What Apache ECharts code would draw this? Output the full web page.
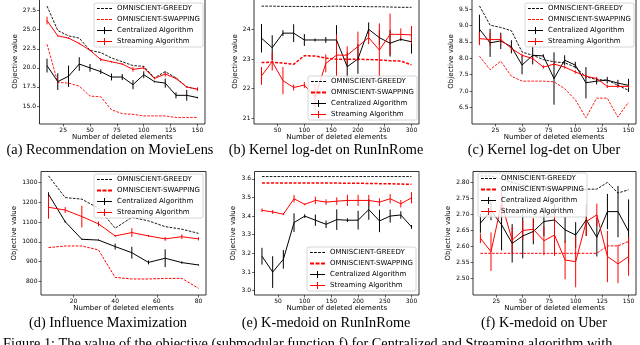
<!DOCTYPE html>
<html><head><meta charset="utf-8">
<script src="https://cdn.jsdelivr.net/npm/echarts@6/dist/echarts.min.js"></script>
<style>html,body{margin:0;padding:0;background:#fff}#c{width:640px;height:345px}</style>
</head><body><div id="c"></div>
<script>
// ---------------- data ----------------
const seriesNames = ['OMNISCIENT-GREEDY', 'OMNISCIENT-SWAPPING', 'Centralized Algorithm', 'Streaming Algorithm'];
const xTitle = 'Number of deleted elements';
const yTitle = 'Objective value';
const captions = ['(a) Recommendation on MovieLens', '(b) Kernel log-det on RunInRome', '(c) Kernel log-det on Uber',
                  '(d) Influence Maximization', '(e) K-medoid on RunInRome', '(f) K-medoid on Uber'];
const figureCaption = 'Figure 1: The value of the objective (submodular function f) for Centralized and Streaming algorithm with';

// (a) Recommendation on MovieLens
const xA = [10,20,30,40,50,60,70,80,90,100,110,120,130,140,150];
const greedyA = [28.1,24.9,24.2,23.9,22.3,22.0,21.3,20.8,20.3,20.2,18.7,19.5,18.7,17.5,17.2];
const swapA = [23.1,18.1,18.0,17.6,16.3,16.2,14.5,14.0,13.9,13.7,13.7,13.7,13.5,13.5,13.5];
const centA = [20.3,18.2,18.9,20.5,20.0,19.5,18.8,18.8,17.8,19.1,18.2,18.0,16.4,16.4,16.1];
const centErrA = [0.9,1.1,1.4,0.9,0.5,0.3,0.45,0.4,0.6,0.45,0.1,0.6,0.4,0.7,0.1];
const streamA = [26.2,24.2,23.9,23.2,22.3,21.1,20.8,20.5,19.8,20.0,18.6,19.2,18.6,17.5,17.2];
const streamErrA = [0.5,0.1,0.1,0.1,0.1,0.2,0.1,0.1,0.3,0.2,0.1,0.35,0.1,0.1,0.25];
const xTicksA = [25,50,75,100,125,150];
const yTicksA = [15.0,17.5,20.0,22.5,25.0,27.5];

// (b) Kernel log-det on RunInRome
const xB = [20,40,60,80,100,120,140,160,180,200,220,240,260,280,300];
const greedyB = [24.78,24.78,24.77,24.77,24.77,24.76,24.77,24.78,24.77,24.77,24.76,24.76,24.75,24.74,24.74];
const swapB = [22.88,22.89,22.86,22.82,23.11,23.10,23.03,22.99,22.99,22.99,22.98,22.97,22.94,22.93,22.80];
const centB = [23.70,23.38,23.87,23.87,23.64,23.64,23.64,23.64,22.74,23.00,24.00,23.72,23.53,23.66,23.58];
const centErrB = [0.48,0.42,0.10,0.30,0.20,0.05,0.10,0.50,0.48,0.50,0.23,0.25,0.45,0.05,0.40];
const streamB = [22.43,22.91,22.27,22.04,22.12,21.72,22.85,23.13,23.13,23.42,23.72,23.30,23.83,23.83,23.81];
const streamErrB = [0.30,0.30,0.46,0.10,0.10,0.40,0.30,0.70,0.30,0.50,0.22,0.90,0.70,0.20,0.30];
const xTicksB = [50,100,150,200,250,300];
const yTicksB = [21,22,23,24];

// (c) Kernel log-det on Uber
const xC = [10,20,30,40,50,60,70,80,90,100,110,120,130,140,150];
const greedyC = [9.60,9.01,8.94,8.84,8.19,8.09,7.96,7.89,7.86,7.73,7.43,7.35,7.33,7.17,7.02];
const swapC = [8.06,7.65,7.91,7.45,7.30,7.30,7.30,7.28,7.07,6.73,6.18,6.78,6.78,6.20,6.66];
const centC = [8.89,8.47,8.53,8.35,7.79,8.09,8.07,7.38,7.94,7.79,7.25,7.30,7.33,7.24,7.17];
const centErrC = [0.44,0.43,0.25,0.20,0.28,0.28,0.05,0.80,0.15,0.10,0.48,0.10,0.10,0.10,0.20];
const streamC = [8.60,8.57,8.57,8.30,8.09,7.99,7.73,7.82,7.73,7.58,7.45,7.38,7.14,7.14,7.14];
const streamErrC = [0.20,0.20,0.15,0.05,0.05,0.05,0.05,0.05,0.05,0.05,0.05,0.05,0.05,0.05,0.05];
const xTicksC = [25,50,75,100,125,150];
const yTicksC = [6.5,7.0,7.5,8.0,8.5,9.0,9.5];

// (d) Influence Maximization
const xD = [8,16,24,32,40,48,56,64,72,80];
const greedyD = [1334,1224,1216,1170,1069,1124,1106,1077,1064,1043];
const swapD = [971,979,979,959,820,812,812,815,815,765];
const centD = [1241,1102,1013,1009,976,945,896,917,895,883];
const centErrD = [10,5,3,3,15,30,10,45,6,3];
const streamD = [1175,1161,1128,1091,1030,1047,1030,1015,1026,1015];
const streamErrD = [58,15,55,12,5,22,5,10,12,8];
const xTicksD = [20,40,60,80];
const yTicksD = [800,900,1000,1100,1200,1300];

// (e) K-medoid on RunInRome
const xE = [20,40,60,80,100,120,140,160,180,200,220,240,260,280,300];
const greedyE = [3.612,3.612,3.612,3.612,3.612,3.612,3.612,3.612,3.612,3.612,3.612,3.612,3.612,3.612,3.612];
const swapE = [3.577,3.577,3.577,3.577,3.577,3.577,3.577,3.577,3.576,3.576,3.575,3.574,3.573,3.572,3.570];
const centE = [3.185,3.100,3.168,3.365,3.400,3.378,3.356,3.381,3.378,3.378,3.435,3.374,3.400,3.406,3.342];
const centErrE = [0.045,0.085,0.050,0.050,0.010,0.030,0.020,0.055,0.010,0.050,0.055,0.060,0.035,0.020,0.010];
const streamE = [3.431,3.422,3.410,3.493,3.463,3.484,3.475,3.480,3.484,3.484,3.484,3.475,3.493,3.466,3.498];
const streamErrE = [0.010,0.010,0.005,0.020,0.005,0.020,0.015,0.020,0.030,0.030,0.030,0.020,0.025,0.020,0.030];
const xTicksE = [50,100,150,200,250,300];
const yTicksE = [3.0,3.1,3.2,3.3,3.4,3.5,3.6];

// (f) K-medoid on Uber
const xF = [10,20,30,40,50,60,70,80,90,100,110,120,130,140,150];
const greedyF = [2.820,2.820,2.810,2.800,2.790,2.790,2.785,2.780,2.780,2.775,2.779,2.779,2.800,2.767,2.777];
const swapF = [2.579,2.579,2.579,2.579,2.579,2.579,2.579,2.579,2.579,2.579,2.579,2.579,2.602,2.602,2.616];
const centF = [2.673,2.712,2.668,2.610,2.633,2.647,2.678,2.683,2.652,2.636,2.683,2.629,2.709,2.709,2.647];
const centErrF = [0.030,0.030,0.080,0.060,0.070,0.040,0.045,0.050,0.040,0.040,0.050,0.060,0.055,0.080,0.100];
const streamF = [2.626,2.584,2.735,2.620,2.650,2.654,2.618,2.636,2.558,2.553,2.678,2.699,2.569,2.546,2.569];
const streamErrF = [0.015,0.060,0.040,0.040,0.030,0.035,0.045,0.065,0.060,0.080,0.045,0.035,0.080,0.060,0.060];
const xTicksF = [25,50,75,100,125,150];
const yTicksF = [2.50,2.55,2.60,2.65,2.70,2.75,2.80];

// ---------------- layout / style ----------------
const FONT = 'DejaVu Sans';
const SERIF = 'Liberation Serif';
const RED = '#ff0000', BLACK = '#000000';

const panels = [
  {data:{x:xA,g:greedyA,s:swapA,c:centA,ce:centErrA,t:streamA,te:streamErrA,xt:xTicksA,yt:yTicksA},
   grid:{left:39.5,top:-1,width:165.5,height:125}, xr:[3,157], yr:[12.64,29.03], yDec:1, yGap:20.5, xGap:9.2,
   legend:{left:94,top:3}, swapW:0.9, legThick:false, cap:[110,150]},
  {data:{x:xB,g:greedyB,s:swapB,c:centB,ce:centErrB,t:streamB,te:streamErrB,xt:xTicksB,yt:yTicksB},
   grid:{left:254,top:-1,width:165,height:125}, xr:[6,314], yr:[20.81,25.02], yDec:0, yGap:15, xGap:9.2,
   legend:{left:308,top:76}, swapW:1.5, legThick:true, cap:[326,150]},
  {data:{x:xC,g:greedyC,s:swapC,c:centC,ce:centErrC,t:streamC,te:streamErrC,xt:xTicksC,yt:yTicksC},
   grid:{left:472,top:-1,width:164,height:125}, xr:[3,157], yr:[5.99,9.81], yDec:1, yGap:17, xGap:9.2,
   legend:{left:525,top:3}, swapW:0.9, legThick:false, cap:[544,150]},
  {data:{x:xD,g:greedyD,s:swapD,c:centD,ce:centErrD,t:streamD,te:streamErrD,xt:xTicksD,yt:yTicksD},
   grid:{left:41,top:171.5,width:165,height:123.5}, xr:[4.4,83.6], yr:[731,1356], yDec:0, yGap:23, xGap:9.8,
   legend:{left:94,top:174}, swapW:1.0, legThick:true, cap:[108,323]},
  {data:{x:xE,g:greedyE,s:swapE,c:centE,ce:centErrE,t:streamE,te:streamErrE,xt:xTicksE,yt:yTicksE},
   grid:{left:254.5,top:171.5,width:164.5,height:123.5}, xr:[6,314], yr:[2.977,3.639], yDec:1, yGap:17.4, xGap:9.8,
   legend:{left:307,top:247}, swapW:1.5, legThick:true, cap:[326,323]},
  {data:{x:xF,g:greedyF,s:swapF,c:centF,ce:centErrF,t:streamF,te:streamErrF,xt:xTicksF,yt:yTicksF},
   grid:{left:473,top:171.5,width:163,height:123.5}, xr:[3,157], yr:[2.449,2.834], yDec:2, yGap:21, xGap:9.8,
   legend:{left:478,top:173}, swapW:1.0, legThick:true, cap:[544,323]}
];

// legend icons
function dashIcon(n, th) {
  const total = 150, gap = n === 4 ? 12.67 : 15, dash = (total - gap * (n - 1)) / n;
  let p = 'path://';
  for (let i = 0; i < n; i++) {
    const x0 = (i * (dash + gap)).toFixed(2), x1 = (i * (dash + gap) + dash).toFixed(2);
    p += `M${x0},0L${x1},0L${x1},${th}L${x0},${th}Z`;
  }
  return p;
}
const ICON_ERR = 'path://M0,30L70,30L70,0L80,0L80,30L150,30L150,40L80,40L80,70L70,70L70,40L0,40Z';
const ICON_DASH_THIN = dashIcon(4, 9);
const ICON_DASH_THICK = dashIcon(3, 18);

const grids = [], xAxes = [], yAxes = [], series = [], legends = [], graphics = [];

function lineSeries(i, name, xs, ys, color, width, type) {
  return {
    type: 'line', name, xAxisIndex: i, yAxisIndex: i, color,
    data: xs.map((x, k) => [x, ys[k]]),
    symbol: 'none', showSymbol: false, silent: true, animation: false,
    lineStyle: {color, width, type, cap: 'butt'}, itemStyle: {color},
    emphasis: {disabled: true}
  };
}
function errSeries(i, xs, ys, es, color) {
  return {
    type: 'custom', xAxisIndex: i, yAxisIndex: i, silent: true, animation: false,
    encode: {x: 0, y: [1, 2]},
    data: xs.map((x, k) => [x, ys[k] - es[k], ys[k] + es[k]]),
    renderItem: function (params, api) {
      const p1 = api.coord([api.value(0), api.value(1)]);
      const p2 = api.coord([api.value(0), api.value(2)]);
      return {type: 'line', shape: {x1: p1[0], y1: p1[1], x2: p2[0], y2: p2[1]},
              style: {stroke: color, lineWidth: 1}};
    }
  };
}

panels.forEach((p, i) => {
  const d = p.data;
  grids.push(Object.assign({show: true, borderColor: BLACK, borderWidth: 0.8, backgroundColor: 'transparent',
                            containLabel: false, outerBoundsMode: 'none'}, p.grid));
  const tick = {show: true, length: 2.5, lineStyle: {color: BLACK, width: 0.6}};
  const lab = {fontFamily: FONT, fontSize: 6, color: BLACK};
  xAxes.push({
    type: 'value', gridIndex: i, min: p.xr[0], max: p.xr[1],
    name: xTitle, nameLocation: 'middle', nameGap: p.xGap, nameMoveOverlap: false,
    nameTextStyle: {fontFamily: FONT, fontSize: 7, color: BLACK},
    axisLine: {show: false}, splitLine: {show: false},
    axisTick: Object.assign({customValues: d.xt}, tick),
    axisLabel: Object.assign({customValues: d.xt, margin: 3.5, formatter: v => String(v)}, lab)
  });
  yAxes.push({
    type: 'value', gridIndex: i, min: p.yr[0], max: p.yr[1],
    name: yTitle, nameLocation: 'middle', nameGap: p.yGap, nameMoveOverlap: false,
    nameTextStyle: {fontFamily: FONT, fontSize: 7, color: BLACK},
    axisLine: {show: false}, splitLine: {show: false},
    axisTick: Object.assign({customValues: d.yt}, tick),
    axisLabel: Object.assign({customValues: d.yt, margin: 3.5, formatter: v => v.toFixed(p.yDec)}, lab)
  });
  series.push(lineSeries(i, seriesNames[0], d.x, d.g, BLACK, 0.9, [2.6, 1.3]));
  series.push(lineSeries(i, seriesNames[1], d.x, d.s, RED, p.swapW, p.swapW > 1.2 ? [3, 1.5] : [2.6, 1.3]));
  series.push(lineSeries(i, seriesNames[2], d.x, d.c, BLACK, 1, 'solid'));
  series.push(errSeries(i, d.x, d.c, d.ce, BLACK));
  series.push(lineSeries(i, seriesNames[3], d.x, d.t, RED, 1, 'solid'));
  series.push(errSeries(i, d.x, d.t, d.te, RED));
  legends.push({
    orient: 'vertical', left: p.legend.left, top: p.legend.top,
    padding: [2, 3, 2, 3], itemWidth: 15, itemHeight: 7, itemGap: 4,
    symbolKeepAspect: true, selectedMode: false,
    backgroundColor: 'rgba(255,255,255,0.8)', borderColor: '#cccccc', borderWidth: 0.8, borderRadius: 2,
    textStyle: {fontFamily: FONT, fontSize: 7, color: BLACK},
    itemStyle: {borderWidth: 0},
    data: [
      {name: seriesNames[0], icon: ICON_DASH_THIN},
      {name: seriesNames[1], icon: p.legThick ? ICON_DASH_THICK : ICON_DASH_THIN},
      {name: seriesNames[2], icon: ICON_ERR},
      {name: seriesNames[3], icon: ICON_ERR}
    ]
  });
  graphics.push({type: 'text', silent: true,
    style: {text: captions[i], x: p.cap[0], y: p.cap[1], align: 'center', verticalAlign: 'middle',
            textAlign: 'center', textVerticalAlign: 'middle',
            font: '14.3px "' + SERIF + '"', fill: BLACK}});
});
graphics.push({type: 'text', silent: true,
  style: {text: figureCaption, x: 3, y: 344, align: 'left', verticalAlign: 'middle',
          textAlign: 'left', textVerticalAlign: 'middle',
          font: '14.3px "' + SERIF + '"', fill: BLACK}});

const chart = echarts.init(document.getElementById('c'), null, {renderer: 'canvas'});
chart.setOption({
  animation: false,
  backgroundColor: '#ffffff',
  textStyle: {fontFamily: FONT},
  grid: grids, xAxis: xAxes, yAxis: yAxes, series, legend: legends,
  graphic: {elements: graphics}
});
</script>
</body></html>
